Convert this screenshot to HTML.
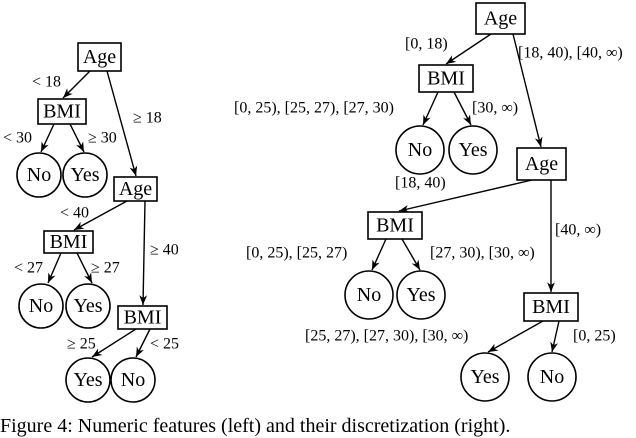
<!DOCTYPE html>
<html><head><meta charset="utf-8"><style>
html,body{margin:0;padding:0;background:#fff;width:636px;height:438px;overflow:hidden}
svg{display:block}
.n{font-family:"Liberation Serif",serif;font-size:20px;text-anchor:middle;dominant-baseline:central}
.l{font-family:"Liberation Serif",serif;font-size:16px;dominant-baseline:central}
rect,circle{fill:#fff;stroke:#000;stroke-width:1.6}
line{stroke:#000;stroke-width:1.4;marker-end:url(#a)}
</style></head><body>
<svg width="636" height="438" viewBox="0 0 636 438">
<defs><marker id="a" viewBox="0 0 10 10" refX="10" refY="5" markerWidth="7" markerHeight="7" orient="auto"><path d="M0,1 L10,5 L0,9 L3,5z" fill="#000"/></marker></defs>
<!-- left tree -->
<line x1="90" y1="71" x2="63" y2="98"/>
<line x1="107" y1="71" x2="136" y2="176"/>
<line x1="54" y1="124" x2="41" y2="152"/>
<line x1="70" y1="124" x2="84" y2="152"/>
<line x1="127" y1="201" x2="74" y2="230"/>
<line x1="145" y1="201" x2="143" y2="305"/>
<line x1="61" y1="253" x2="48" y2="283"/>
<line x1="77" y1="253" x2="92" y2="283"/>
<line x1="136" y1="329" x2="92" y2="357"/>
<line x1="150" y1="329" x2="136" y2="357"/>
<rect x="78" y="43" width="43" height="28"/><text class="n" x="99.5" y="57">Age</text>
<rect x="38" y="99" width="48" height="25"/><text class="n" x="62" y="111.5">BMI</text>
<circle cx="39" cy="175" r="22"/><text class="n" x="39" y="175">No</text>
<circle cx="85" cy="175" r="22"/><text class="n" x="85" y="175">Yes</text>
<rect x="114" y="177" width="43" height="24"/><text class="n" x="135.5" y="189">Age</text>
<rect x="44" y="231" width="49" height="22"/><text class="n" x="68.5" y="242">BMI</text>
<circle cx="41" cy="306" r="22"/><text class="n" x="41" y="306">No</text>
<circle cx="88" cy="306" r="22"/><text class="n" x="88" y="306">Yes</text>
<rect x="118" y="306" width="49" height="23"/><text class="n" x="142.5" y="317.5">BMI</text>
<circle cx="88" cy="380" r="22"/><text class="n" x="88" y="380">Yes</text>
<circle cx="133" cy="380" r="22"/><text class="n" x="133" y="380">No</text>
<text class="l" x="32" y="82">&lt; 18</text>
<text class="l" x="133" y="118">≥ 18</text>
<text class="l" x="3" y="138">&lt; 30</text>
<text class="l" x="88" y="138">≥ 30</text>
<text class="l" x="60" y="213">&lt; 40</text>
<text class="l" x="150" y="250">≥ 40</text>
<text class="l" x="14" y="268">&lt; 27</text>
<text class="l" x="91" y="268">≥ 27</text>
<text class="l" x="67" y="344">≥ 25</text>
<text class="l" x="150" y="344">&lt; 25</text>
<!-- right tree -->
<line x1="491" y1="34" x2="446" y2="64"/>
<line x1="513" y1="34" x2="541" y2="147"/>
<line x1="438" y1="92" x2="423" y2="125"/>
<line x1="454" y1="92" x2="471" y2="125"/>
<line x1="532" y1="180" x2="399" y2="211"/>
<line x1="551" y1="180" x2="551" y2="292"/>
<line x1="386" y1="239" x2="372" y2="270"/>
<line x1="402" y1="239" x2="420" y2="270"/>
<line x1="543" y1="321" x2="488" y2="352"/>
<line x1="559" y1="321" x2="552" y2="352"/>
<rect x="476" y="3" width="49" height="31"/><text class="n" x="500.5" y="18.5">Age</text>
<rect x="419" y="65" width="54" height="27"/><text class="n" x="446" y="78.5">BMI</text>
<circle cx="420" cy="150" r="24"/><text class="n" x="420" y="150">No</text>
<circle cx="473" cy="150" r="24"/><text class="n" x="473" y="150">Yes</text>
<rect x="517" y="148" width="49" height="32"/><text class="n" x="541.5" y="164">Age</text>
<rect x="368" y="212" width="54" height="27"/><text class="n" x="395" y="225.5">BMI</text>
<circle cx="369" cy="295" r="24"/><text class="n" x="369" y="295">No</text>
<circle cx="421" cy="295" r="24"/><text class="n" x="421" y="295">Yes</text>
<rect x="524" y="293" width="54" height="28"/><text class="n" x="551" y="307">BMI</text>
<circle cx="485" cy="377" r="24"/><text class="n" x="485" y="377">Yes</text>
<circle cx="552" cy="377" r="24"/><text class="n" x="552" y="377">No</text>
<text class="l" x="405" y="44">[0, 18)</text>
<text class="l" x="518" y="53">[18, 40), [40, ∞)</text>
<text class="l" x="234" y="108">[0, 25), [25, 27), [27, 30)</text>
<text class="l" x="472" y="108">[30, ∞)</text>
<text class="l" x="395" y="183">[18, 40)</text>
<text class="l" x="555" y="230">[40, ∞)</text>
<text class="l" x="246" y="253">[0, 25), [25, 27)</text>
<text class="l" x="430" y="253">[27, 30), [30, ∞)</text>
<text class="l" x="305" y="336">[25, 27), [27, 30), [30, ∞)</text>
<text class="l" x="573" y="336">[0, 25)</text>
<text x="0" y="432" style="font-family:'Liberation Serif',serif;font-size:20px">Figure 4: Numeric features (left) and their discretization (right).</text>
</svg>
</body></html>
